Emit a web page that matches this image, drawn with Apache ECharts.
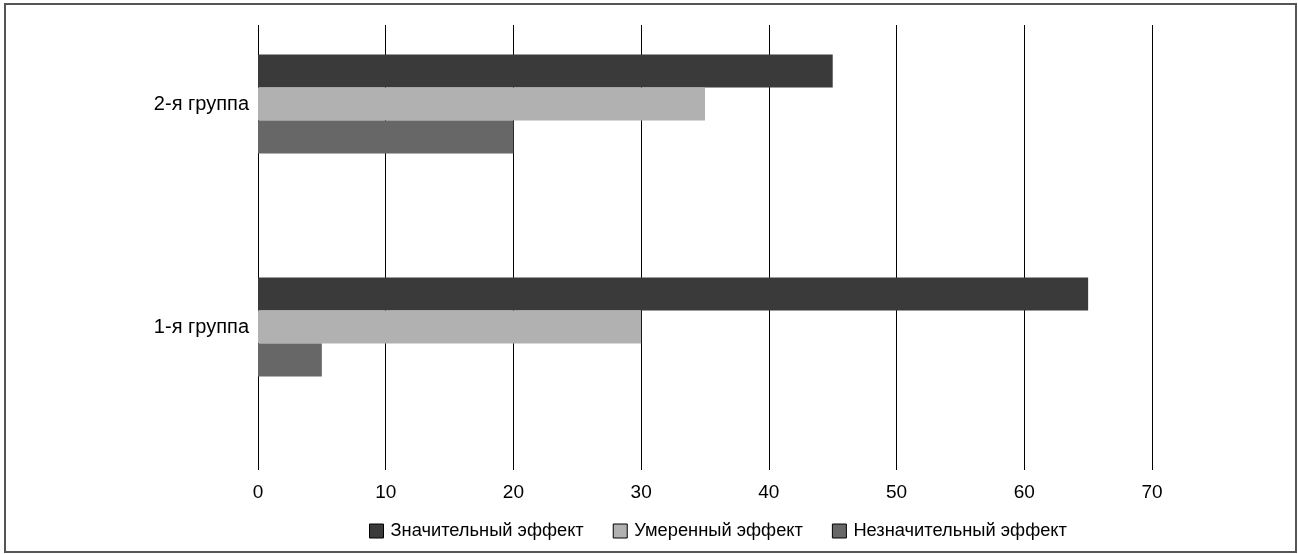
<!DOCTYPE html>
<html>
<head>
<meta charset="utf-8">
<script src="https://cdn.jsdelivr.net/npm/echarts@6/dist/echarts.min.js"></script>
<style>
  html, body { margin: 0; padding: 0; background: #fff; }
  #chart { width: 1298px; height: 554px; }
</style>
</head>
<body>
<div id="chart"></div>
<script>
// Groups, top to bottom
const categories = ['2-я группа', '1-я группа'];
// Effect levels (legend order)
const seriesNames = ['Значительный эффект', 'Умеренный эффект', 'Незначительный эффект'];
const significant = [45, 65];
const moderate = [35, 30];
const minor = [20, 5];
const xTicks = { min: 0, max: 70, interval: 10 };

const colors = ['#3a3a3a', '#b1b1b1', '#676767'];
const font = '"Liberation Sans", Arial, sans-serif';
const values = [significant, moderate, minor];

const chart = echarts.init(document.getElementById('chart'), null, { renderer: 'canvas' });

chart.setOption({
  backgroundColor: '#ffffff',
  animation: false,
  textStyle: { fontFamily: font },
  graphic: [{
    type: 'rect',
    shape: { x: 5, y: 4, width: 1291, height: 548 },
    style: { fill: 'none', stroke: '#555555', lineWidth: 2 },
    silent: true
  }],
  legend: {
    data: seriesNames,
    left: 364,
    top: 517,
    itemWidth: 14,
    itemHeight: 14,
    itemGap: 29,
    icon: 'rect',
    itemStyle: { borderColor: '#000000', borderWidth: 1 },
    textStyle: { fontFamily: font, fontSize: 18.3, color: '#000', padding: [0, 0, 0, 2] }
  },
  grid: [
    // value grid with the vertical rules
    { left: 258, right: 146, top: 25, height: 445 },
    // category grid carrying the bars; groups sit on its top and bottom edges
    { left: 258, right: 146, top: 104, height: 223 }
  ],
  xAxis: [
    {
      gridIndex: 0, type: 'value',
      min: xTicks.min, max: xTicks.max, interval: xTicks.interval,
      axisLine: { show: false }, axisTick: { show: false },
      splitLine: { show: true, showMinLine: true, showMaxLine: true, lineStyle: { color: '#000', width: 1, type: 'solid' } },
      axisLabel: { fontFamily: font, fontSize: 19, color: '#000', margin: 13 }
    },
    {
      gridIndex: 1, type: 'value',
      min: xTicks.min, max: xTicks.max, interval: xTicks.interval,
      show: false
    }
  ],
  yAxis: [
    { gridIndex: 0, type: 'value', show: false, splitLine: { show: false } },
    {
      gridIndex: 1, type: 'category', inverse: true, data: categories,
      boundaryGap: false,
      axisLine: { show: false }, axisTick: { show: false },
      splitLine: { show: false },
      axisLabel: { fontFamily: font, fontSize: 20, color: '#000', margin: 9, padding: [3, 0, 0, 0] }
    }
  ],
  series: seriesNames.map((name, i) => ({
    name,
    type: 'bar',
    xAxisIndex: 1,
    yAxisIndex: 1,
    data: values[i],
    barWidth: 33,
    barGap: '0%',
    clip: false,
    itemStyle: { color: colors[i] },
    z: 3
  }))
});
</script>
</body>
</html>
